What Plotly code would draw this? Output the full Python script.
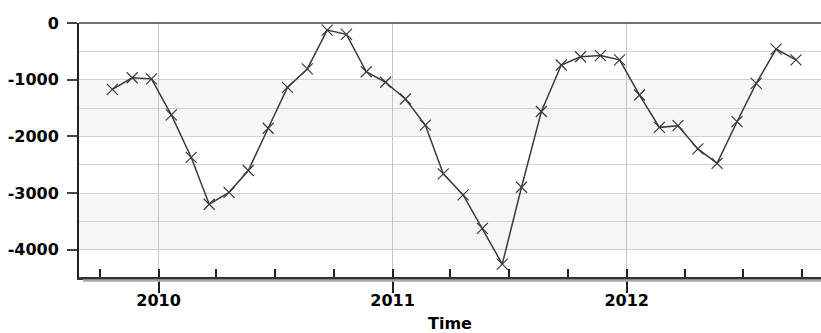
import pandas as pd
import plotly.graph_objects as go

# ---- data ----
months = pd.date_range(start="2009-10-01", periods=36, freq="MS") + pd.Timedelta(days=20)
values = [-1170, -965, -985, -1620, -2370, -3195, -2985, -2600, -1855, -1135,
          -810, -125, -200, -860, -1045, -1340, -1800, -2660, -3030, -3620,
          -4250, -2895, -1560, -740, -595, -575, -650, -1270, -1840, -1810,
          -2220, -2475, -1740, -1065, -460, -650]
y_ticks = [0, -1000, -2000, -3000, -4000]
x_range = ["2009-08-30", "2012-10-30"]
y_range = [-4478, 0]
bands = [(-1000, -2000), (-3000, -4000)]
x_title = "Time"

FONT = "DejaVu Sans"

fig = go.Figure()
fig.add_trace(go.Scatter(
    x=months, y=values, mode="lines+markers",
    line=dict(color="#3a3a3a", width=1.5),
    marker=dict(symbol="x-thin-open", size=11, color="#3a3a3a",
                line=dict(color="#3a3a3a", width=1.2)),
    showlegend=False, hoverinfo="x+y",
))
# dummy trace on overlay axis for quarter ticks
fig.add_trace(go.Scatter(x=[x_range[0]], y=[0], xaxis="x2", mode="markers",
                         marker=dict(opacity=0), showlegend=False, hoverinfo="skip"))

shapes = []
for top, bot in bands:
    shapes.append(dict(type="rect", xref="paper", yref="y", x0=0, x1=1, y0=bot, y1=top,
                       fillcolor="#f6f6f6", line=dict(width=0), layer="below"))
# top border
shapes.append(dict(type="line", xref="paper", yref="paper", x0=0, x1=1, y0=1, y1=1,
                   line=dict(color="#444444", width=1.3)))
# bottom axis shadow
shapes.append(dict(type="line", xref="paper", yref="paper", x0=4/742, x1=1,
                   y0=-3.5/254, y1=-3.5/254, line=dict(color="#a8a8a8", width=2.5)))

fig.update_layout(
    width=821, height=333,
    margin=dict(l=79, r=0, t=23, b=56),
    paper_bgcolor="white", plot_bgcolor="white",
    font=dict(family=FONT, size=16, color="black"),
    shapes=shapes,
    xaxis=dict(
        type="date", range=x_range, dtick="M12", tick0="2010-01-01", tickformat="%Y",
        ticks="outside", ticklen=13, tickwidth=1.5, tickcolor="#222",
        ticklabelstandoff=-6, automargin=False,
        showgrid=True, gridcolor="#c4c4c4", gridwidth=1,
        showline=True, linecolor="#333333", linewidth=2.5,
        zeroline=False, tickfont=dict(family=FONT, size=16, color="black", weight="bold"),
        title=dict(text=x_title, font=dict(family=FONT, size=16, color="black", weight="bold"),
                   standoff=16),
    ),
    xaxis2=dict(
        type="date", range=x_range, overlaying="x", side="bottom", anchor="y",
        dtick="M3", tick0="2010-01-01", ticks="inside", ticklen=8, tickwidth=1.5,
        tickcolor="#222", showticklabels=False, showgrid=False, showline=False,
        zeroline=False, automargin=False,
    ),
    yaxis=dict(
        range=y_range, tickvals=y_ticks, ticktext=[str(v) for v in y_ticks],
        ticks="outside", ticklen=10, tickwidth=1.5, tickcolor="#444",
        ticklabelstandoff=5, automargin=False,
        showgrid=True, gridcolor="#d2d2d2", gridwidth=1.2,
        showline=True, linecolor="#222222", linewidth=2,
        zeroline=False, tickfont=dict(family=FONT, size=16, color="black", weight="bold"),
        minor=dict(dtick=500, tick0=0, showgrid=True, gridcolor="#d2d2d2", gridwidth=1.2,
                   ticks=""),
    ),
)

fig.write_html("out.html", config={"displayModeBar": False},
               post_script="document.body.style.margin='0';")
